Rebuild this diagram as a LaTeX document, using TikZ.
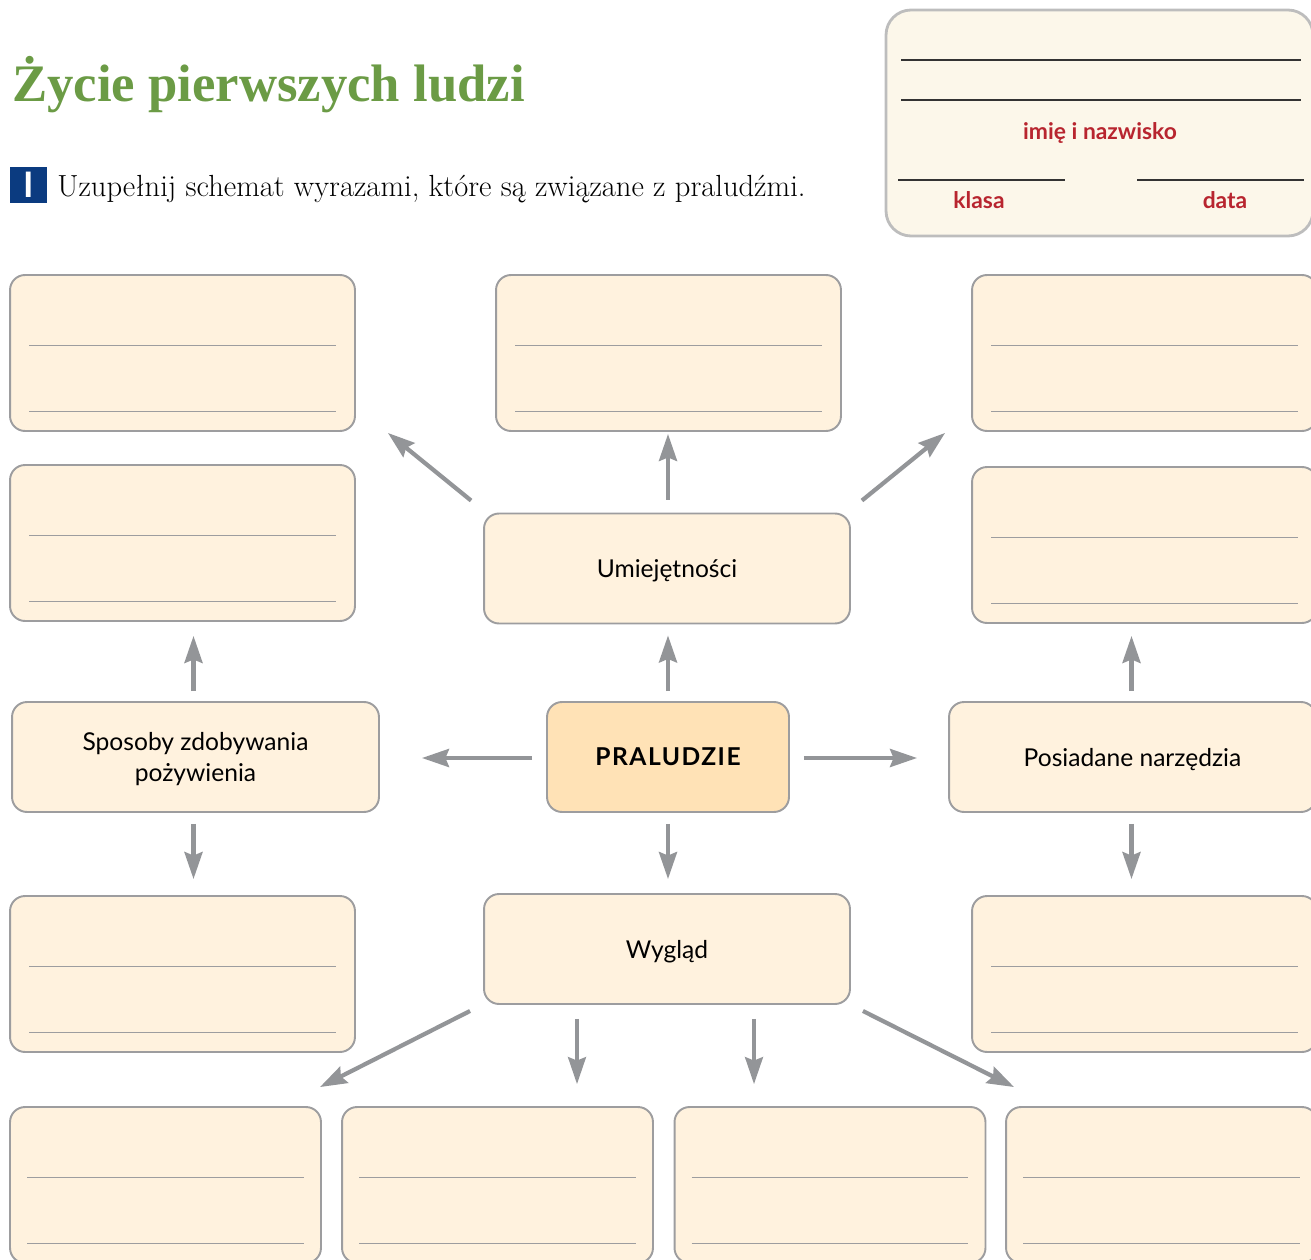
\documentclass[tikz,border=0pt]{standalone}
\usepackage{fontspec}
\newfontfamily\titlefont{Liberation Serif}
\newfontfamily\boxfont{Lato}
\usetikzlibrary{arrows.meta,calc}
\definecolor{titlegreen}{HTML}{6B9B45}
\definecolor{taskblue}{HTML}{0B3B80}
\definecolor{labelred}{HTML}{B8252F}
\definecolor{boxfill}{HTML}{FFF2DE}
\definecolor{corefill}{HTML}{FFE2B6}
\definecolor{boxline}{HTML}{9D9D9F}
\definecolor{arrowgray}{HTML}{939598}
\definecolor{headfill}{HTML}{FCF7EA}
\definecolor{headline}{HTML}{BDBDBD}

\begin{document}
\begin{tikzpicture}[x=0.02cm,y=-0.02cm,
		box/.style={draw=boxline,line width=1.1pt,fill=boxfill,rounded corners=0.3cm,
			minimum width=6.9cm,minimum height=3.12cm,inner sep=0pt},
		topic/.style={box,minimum width=7.32cm,minimum height=2.2cm,text depth=0pt,
			font=\boxfont\fontsize{14}{18}\selectfont,align=center},
		smallbox/.style={box,minimum width=6.22cm},
		rule/.style={draw=boxline,line width=0.6pt},
		arr/.style={draw=arrowgray,line width=2.4pt,
			-{Stealth[length=0.54cm,width=0.36cm,inset=0.07cm]}},
		thinarr/.style={arr,line width=1.8pt},
		redlabel/.style={text=labelred,font=\boxfont\bfseries\fontsize{13}{15}\selectfont}]
		\useasboundingbox (0,0) rectangle (1311,1260);
		\clip (0,0) rectangle (1311,1260);
		% naglowek
		\node[anchor=base west,inner sep=0pt,text=titlegreen,
			font=\titlefont\bfseries\fontsize{30}{36}\selectfont] (title) at (12,102) {Życie pierwszych ludzi};
		\node[fill=taskblue,minimum width=0.74cm,minimum height=0.72cm,inner sep=0pt,
			text=white,font=\boxfont\bfseries\fontsize{20}{20}\selectfont] (task) at (28.5,185) {I};
		\node[anchor=base west,inner sep=0pt,font=\fontsize{17.4}{20}\selectfont] (instr) at (57,197)
			{Uzupełnij schemat wyrazami, które są związane z praludźmi.};
		\draw[draw=headline,line width=1.6pt,fill=headfill,rounded corners=0.5cm] (886,10) rectangle (1313,236);
		\draw[line width=0.8pt,black!80] (901,60) -- (1301,60);
		\draw[line width=0.8pt,black!80] (901,100) -- (1301,100);
		\draw[line width=0.8pt,black!80] (898,180) -- (1065,180);
		\draw[line width=0.8pt,black!80] (1137,180) -- (1304,180);
		\node[redlabel] (name) at (1100,133) {imię i nazwisko};
		\node[redlabel] (klasa) at (979,200) {klasa};
		\node[redlabel] (data) at (1225,200) {data};
		% pola
		\node[box] (tl) at (182.5,353) {};
		\node[box] (tm) at (668.5,353) {};
		\node[box] (tr) at (1144.5,353) {};
		\node[box] (ml) at (182.5,543) {};
		\node[box] (mr) at (1144.5,545) {};
		\node[box] (bl) at (182.5,974) {};
		\node[box] (br) at (1144.5,974) {};
		\node[smallbox] (b1) at (165.5,1185) {};
		\node[smallbox] (b2) at (497.5,1185) {};
		\node[smallbox] (b3) at (830,1185) {};
		\node[smallbox] (b4) at (1161.5,1185) {};
		\foreach \n in {tl,tm,tr,ml,mr,bl,br} {
			\draw[rule] ($(\n.north west)+(20,71)$) -- ($(\n.north east)+(-20,71)$);
			\draw[rule] ($(\n.north west)+(20,137)$) -- ($(\n.north east)+(-20,137)$);
		}
		\foreach \n in {b1,b2,b3,b4} {
			\draw[rule] ($(\n.north west)+(18,71)$) -- ($(\n.north east)+(-18,71)$);
			\draw[rule] ($(\n.north west)+(18,137)$) -- ($(\n.north east)+(-18,137)$);
		}
		% tematy
		\node[topic] (um) at (667,568.5) {Umiejętności};
		\node[topic,minimum width=7.34cm] (sp) at (195.5,757) {Sposoby zdobywania\\pożywienia};
		\node[topic,minimum width=7.34cm] (po) at (1132.5,757) {Posiadane narzędzia};
		\node[topic] (wy) at (667,949) {Wygląd};
		\node[topic,fill=corefill,minimum width=4.84cm,
			font=\boxfont\bfseries\fontsize{14}{18}\selectfont\addfontfeature{LetterSpace=6}] (pr) at (668,757) {PRALUDZIE};
		% strzalki
		\draw[arr] ($(um.north west)+(-12,-12)$) -- ($(tl.south east)+(32,1)$);
		\draw[arr] ($(um.north)+(1,-13)$) -- ($(um.north |- tm.south)+(1,2)$);
		\draw[arr] ($(um.north east)+(11,-12)$) -- ($(tr.south west)+(-26,1)$);
		\draw[arr] ($(pr.north)+(0,-10)$) -- ($(pr.north |- um.south)+(0,11)$);
		\draw[arr] ($(pr.south)+(0,11)$) -- ($(pr.south |- wy.north)+(0,-14)$);
		\draw[arr] ($(pr.west)+(-14,1)$) -- ($(sp.east)+(42,1)$);
		\draw[arr] ($(pr.east)+(14,1)$) -- ($(po.west)+(-31,1)$);
		\draw[arr] ($(sp.north)+(-2,-10)$) -- ($(ml.south -| sp.north)+(-2,14)$);
		\draw[arr] ($(sp.south)+(-2,11)$) -- ($(bl.north -| sp.south)+(-2,-16)$);
		\draw[arr] ($(po.north)+(-1,-10)$) -- ($(mr.south -| po.north)+(-1,12)$);
		\draw[arr] ($(po.south)+(-1,11)$) -- ($(br.north -| po.south)+(-1,-16)$);
		\draw[arr] ($(wy.south west)+(-13,6)$) -- ($(b1.north east)+(-2,-19)$);
		\draw[thinarr] ($(wy.south)+(-90,14)$) -- ($(wy.south |- b2.north)+(-90,-22)$);
		\draw[thinarr] ($(wy.south)+(87,14)$) -- ($(wy.south |- b3.north)+(87,-22)$);
		\draw[arr] ($(wy.south east)+(12,6)$) -- ($(b4.north west)+(9,-19)$);
	\end{tikzpicture}
\end{document}
